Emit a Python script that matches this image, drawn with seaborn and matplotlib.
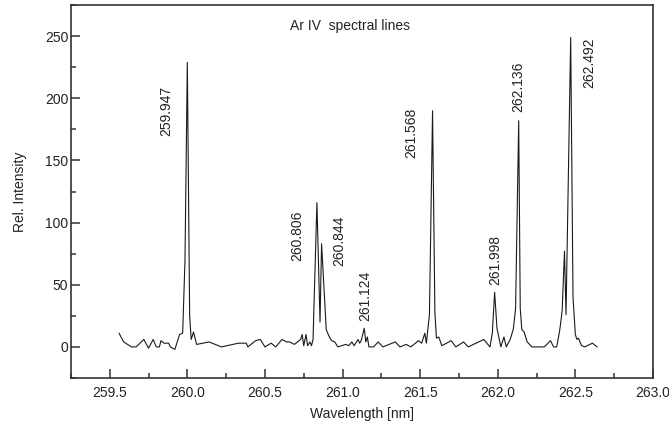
import matplotlib
matplotlib.use('Agg')
import matplotlib.pyplot as plt
import seaborn as sns
import pandas as pd
from matplotlib.ticker import MultipleLocator, FormatStrFormatter

# spectrum
wavelength = [259.56, 259.59, 259.64, 259.67, 259.72, 259.75, 259.78, 259.80, 259.82, 259.83,
              259.85, 259.88, 259.89, 259.92, 259.95, 259.97, 259.985, 260.0, 260.015, 260.025,
              260.04, 260.06, 260.14, 260.22, 260.33, 260.38, 260.39, 260.44, 260.47, 260.50,
              260.54, 260.57, 260.61, 260.64, 260.66, 260.69, 260.73, 260.74, 260.75, 260.765,
              260.775, 260.79, 260.80, 260.81, 260.835, 260.855, 260.865, 260.875, 260.895, 260.905,
              260.915, 260.93, 260.95, 260.97, 261.02, 261.04, 261.06, 261.075, 261.10, 261.11,
              261.12, 261.14, 261.15, 261.16, 261.17, 261.20, 261.23, 261.26, 261.34, 261.37,
              261.41, 261.44, 261.49, 261.51, 261.53, 261.54, 261.56, 261.58, 261.595, 261.605,
              261.62, 261.64, 261.70, 261.73, 261.78, 261.81, 261.86, 261.91, 261.95, 261.965,
              261.98, 261.995, 262.02, 262.04, 262.055, 262.08, 262.10, 262.115, 262.135, 262.145,
              262.155, 262.17, 262.19, 262.22, 262.30, 262.34, 262.36, 262.38, 262.40, 262.415,
              262.43, 262.44, 262.47, 262.485, 262.50, 262.51, 262.52, 262.54, 262.56, 262.61,
              262.64]
intensity = [11, 4, 0, 0, 6, -1, 6, 0, 0, 5,
             3, 3, 0, -2, 10, 11, 70, 229, 25, 6,
             12, 2, 4, 0, 3, 3, 0, 5, 6, 0,
             3, 0, 6, 4, 4, 2, 6, 10, 1, 10,
             1, 4, 1, 6, 116, 20, 83, 60, 14, 11,
             8, 5, 4, 0, 2, 1, 4, 1, 6, 3,
             5, 15, 4, 8, 0, 0, 4, 0, 4, 0,
             2, 0, 5, 3, 11, 3, 26, 190, 28, 7,
             8, 1, 5, 0, 4, 0, 3, 6, 0, 11,
             44, 15, 0, 8, 0, 6, 14, 31, 182, 31,
             14, 12, 4, 0, 0, 5, 0, 0, 14, 29,
             77, 26, 249, 40, 10, 6, 7, 1, 0, 3,
             0]

line_labels = ['259.947', '260.806', '260.844', '261.124', '261.568', '261.998', '262.136', '262.492']
label_x = [259.865, 260.71, 260.98, 261.147, 261.44, 261.987, 262.13, 262.59]
label_y = [190, 89, 85, 41, 172, 70, 209, 229]

df = pd.DataFrame({'wl': wavelength, 'I': intensity})

sns.set_style('ticks')
plt.rcParams['font.family'] = ['Liberation Sans', 'DejaVu Sans']

fig = plt.figure(figsize=(6.69, 4.30), dpi=100)
ax = fig.add_axes([0.106, 0.121, 0.870, 0.867])

sns.lineplot(data=df, x='wl', y='I', sort=False, color='#1a1a1a', linewidth=0.8, ax=ax)

for lab, x, y in zip(line_labels, label_x, label_y):
    ax.text(x, y, lab, rotation=90, ha='center', va='center', fontsize=10, color='#222222')

ax.text(261.05, 258, 'Ar IV  spectral lines', ha='center', va='center', fontsize=10, color='#222222')

ax.set_xlim(259.25, 263.0)
ax.set_ylim(-25, 275)
ax.xaxis.set_major_locator(MultipleLocator(0.5))
ax.xaxis.set_minor_locator(MultipleLocator(0.25))
ax.yaxis.set_major_locator(MultipleLocator(50))
ax.yaxis.set_minor_locator(MultipleLocator(25))
ax.set_yticks([0, 50, 100, 150, 200, 250])
ax.xaxis.set_major_formatter(FormatStrFormatter('%.1f'))

ax.tick_params(which='major', direction='in', length=6.5, width=1.1, colors='#333333', labelsize=10,
               labelcolor='#222222')
ax.tick_params(which='minor', direction='in', length=3.5, width=1.1, colors='#333333')
ax.tick_params(axis='x', which='major', pad=6)
ax.tick_params(axis='y', which='major', pad=2)

for side in ['left', 'right', 'top', 'bottom']:
    ax.spines[side].set_visible(True)
    ax.spines[side].set_linewidth(1.2)
    ax.spines[side].set_color('#333333')

ax.set_xlabel('Wavelength [nm]', fontsize=10, color='#222222', labelpad=5)
ax.set_ylabel('Rel. Intensity', fontsize=10, color='#222222', labelpad=13)

fig.savefig('out.png', dpi=100)
